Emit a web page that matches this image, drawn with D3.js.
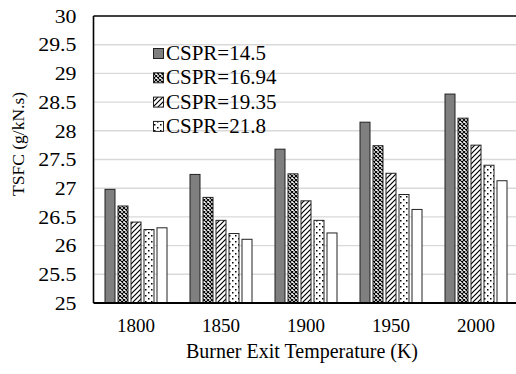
<!DOCTYPE html>
<html><head><meta charset="utf-8">
<script src="https://cdn.jsdelivr.net/npm/d3@7"></script>
<style>body{margin:0;background:#fff}svg{display:block}</style>
</head><body><svg id="c" width="516" height="374"></svg>
<script>
const categories = ["1800","1850","1900","1950","2000"];
const seriesNames = ["CSPR=14.5","CSPR=16.94","CSPR=19.35","CSPR=21.8","CSPR=24.25"];
const s1 = [26.98, 27.24, 27.68, 28.15, 28.64];
const s2 = [26.69, 26.84, 27.25, 27.74, 28.22];
const s3 = [26.41, 26.44, 26.78, 27.26, 27.75];
const s4 = [26.28, 26.21, 26.44, 26.89, 27.40];
const s5 = [26.31, 26.11, 26.22, 26.63, 27.13];
const yTicks = [25,25.5,26,26.5,27,27.5,28,28.5,29,29.5,30];
const legendCount = 4;

(function(){
const FONT = "'Liberation Serif', 'Times New Roman', serif";
const series = [s1,s2,s3,s4,s5];
const fills = ["#7f7f7f","url(#pCheck)","url(#pHatch)","url(#pDot)","#ffffff"];

const svg = d3.select("#c");
const defs = svg.append("defs");
let p = defs.append("pattern").attr("id","pCheck").attr("patternUnits","userSpaceOnUse").attr("width",4).attr("height",4);
p.append("rect").attr("width",4).attr("height",4).attr("fill","#fff");
p.append("path").attr("d","M0,0L4,4M4,0L0,4").attr("stroke","#000").attr("stroke-width",1.1);
p = defs.append("pattern").attr("id","pHatch").attr("patternUnits","userSpaceOnUse").attr("width",5).attr("height",5);
p.append("rect").attr("width",5).attr("height",5).attr("fill","#fff");
p.append("path").attr("d","M-1,6L6,-1M-1,1L1,-1M4,6L6,4").attr("stroke","#000").attr("stroke-width",1.2);
p = defs.append("pattern").attr("id","pDot").attr("patternUnits","userSpaceOnUse").attr("width",6).attr("height",6);
p.append("rect").attr("width",6).attr("height",6).attr("fill","#fff");
p.append("rect").attr("x",1).attr("y",1).attr("width",1.5).attr("height",1.5).attr("fill","#000");
p.append("rect").attr("x",4).attr("y",4).attr("width",1.5).attr("height",1.5).attr("fill","#000");

const L = 93.5, R = 518.5, T = 16, B = 303;
const x = d3.scaleBand().domain(categories).range([L,R]);
const y = d3.scaleLinear().domain([25,30]).range([B,T]);
const barW = 11, barStep = 13;
const groupW = barW*5 + (barStep-barW)*4;

svg.append("g").selectAll("line").data(yTicks.filter(t=>t>25 && t<30)).join("line")
  .attr("x1",L).attr("x2",R).attr("y1",d=>y(d)).attr("y2",d=>y(d))
  .attr("stroke","#d9d9d9").attr("stroke-width",1.4);

series.forEach((vals,i)=>{
  svg.append("g").selectAll("rect").data(vals).join("rect")
    .attr("x",(d,j)=>x(categories[j]) + (x.bandwidth()-groupW)/2 + i*barStep + 0.5)
    .attr("y",d=>y(d))
    .attr("width",barW-1)
    .attr("height",d=>B-y(d))
    .attr("fill",fills[i]).attr("stroke","#222").attr("stroke-width",1);
});

svg.append("line").attr("x1",L).attr("x2",R).attr("y1",y(30)).attr("y2",y(30)).attr("stroke","#000").attr("stroke-width",1.6);
svg.append("line").attr("x1",L).attr("x2",R).attr("y1",B).attr("y2",B).attr("stroke","#000").attr("stroke-width",2);
svg.append("line").attr("x1",L).attr("x2",L).attr("y1",T).attr("y2",B).attr("stroke","#000").attr("stroke-width",1.6);

const yAxis = d3.axisLeft(y).tickValues(yTicks).tickSize(0).tickPadding(17).tickFormat(d=>d3.format("")(d));
const ya = svg.append("g").attr("transform",`translate(${L},0)`).call(yAxis);
ya.select(".domain").remove();
ya.attr("font-family",FONT).attr("font-size",19);
ya.selectAll("text").attr("fill","#000").attr("dy","0.33em").each(function(){
  const w = this.getComputedTextLength();
  d3.select(this).attr("textLength",w*1.15).attr("lengthAdjust","spacingAndGlyphs");
});

const xAxis = d3.axisBottom(x).tickSize(0).tickPadding(16);
const xa = svg.append("g").attr("transform",`translate(0,${B})`).call(xAxis);
xa.select(".domain").remove();
xa.attr("font-family",FONT).attr("font-size",19);
xa.selectAll("text").attr("fill","#000");

svg.append("text").attr("x",302).attr("y",358).attr("text-anchor","middle").attr("font-family",FONT).attr("font-size",20).attr("fill","#000").text("Burner Exit Temperature (K)");
svg.append("text").attr("transform","translate(24,144) rotate(-90)").attr("text-anchor","middle").attr("font-family",FONT).attr("font-size",17.5).attr("fill","#000").text("TSFC (g/kN.s)");

const lg = svg.append("g").attr("font-family",FONT).attr("font-size",21);
seriesNames.slice(0,legendCount).forEach((n,i)=>{
  const base = 60 + i*24.3;
  lg.append("rect").attr("x",153.5).attr("y",base-11.5).attr("width",10).attr("height",10).attr("fill",fills[i]).attr("stroke","#222").attr("stroke-width",1);
  lg.append("text").attr("x",166).attr("y",base).attr("fill","#000").text(n);
});
})();
</script></body></html>
